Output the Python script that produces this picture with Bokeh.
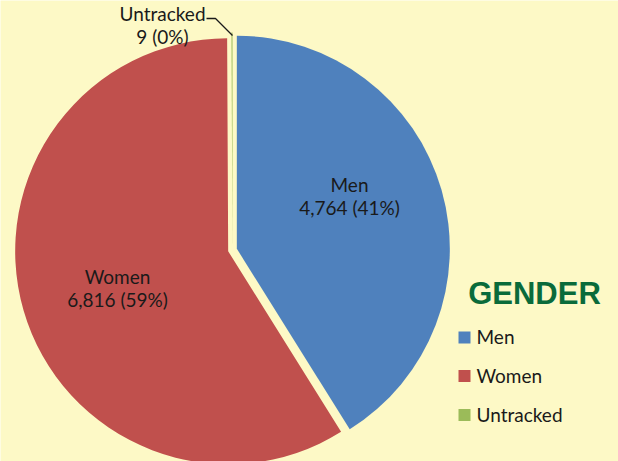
import math
from bokeh.plotting import figure
from bokeh.models import Range1d
from bokeh.core.properties import value
from bokeh.embed import file_html
from bokeh.resources import INLINE

# ---- data ----
categories = ["Men", "Women", "Untracked"]
counts = [4764, 6816, 9]
colors = ["#4F81BD", "#C0504D", "#9BBB59"]
title_text = "GENDER"

BG = "#FDF9C6"
W, H = 618, 461

def sy(y):
    # screen y (px from top of window) -> data y
    return H - y

p = figure(width=W, height=H, output_backend="svg", toolbar_location=None,
           x_range=Range1d(0, W), y_range=Range1d(0, H),
           min_border=0, x_axis_location=None, y_axis_location=None)
p.grid.visible = False
p.outline_line_color = None
p.background_fill_color = BG
p.border_fill_color = BG

total = sum(counts)
fracs = [c / total for c in counts]
cx, cy, r, explode = 232.0, sy(249.5), 213.0, 4.5

cum = 0.0
xs, ys, starts, ends = [], [], [], []
for f in fracs:
    a0 = math.pi / 2 - 2 * math.pi * (cum + f)
    a1 = math.pi / 2 - 2 * math.pi * cum
    mid = (a0 + a1) / 2
    xs.append(cx + explode * math.cos(mid))
    ys.append(cy + explode * math.sin(mid))
    starts.append(a0)
    ends.append(a1)
    cum += f

p.wedge(x=xs, y=ys, radius=r, start_angle=starts, end_angle=ends,
        direction="anticlock", fill_color=colors, line_color=None)

FONT = value("Lato")
FS = "19px"

# data labels (layout positions: centre x, first-line y)
label_pos = [(349, 184), (117, 276), (162, 13)]
for (lx, ly), cat, c in zip(label_pos, categories, counts):
    pct = round(100 * c / total)
    p.text(x=[lx, lx], y=[sy(ly), sy(ly + 23)],
           text=[cat, f"{c:,} ({pct}%)"],
           text_font=FONT, text_font_size=FS, text_color="#1a1a1a",
           text_align="center", text_baseline="alphabetic")

# leader line for the untracked label
p.line(x=[206, 215, 232], y=[sy(18), sy(18), sy(35)], line_color="#1a1a1a", line_width=1.3)

# title
p.text(x=[534], y=[sy(293)], text=[title_text], text_font=value("Liberation Sans"),
       text_font_style="bold", text_font_size="31px", text_color="#0A6B3A",
       text_align="center", text_baseline="alphabetic")

# legend
leg_y = [337, 375.5, 414.5]
p.rect(x=[464] * 3, y=[sy(v) for v in leg_y], width=12, height=12,
       fill_color=colors, line_color=None)
p.text(x=[476] * 3, y=[sy(v - 1) for v in leg_y], text=categories,
       text_font=FONT, text_font_size=FS, text_color="#1a1a1a",
       text_align="left", text_baseline="alphabetic")

html = file_html(p, INLINE)
open("out.html", "w").write(html)
